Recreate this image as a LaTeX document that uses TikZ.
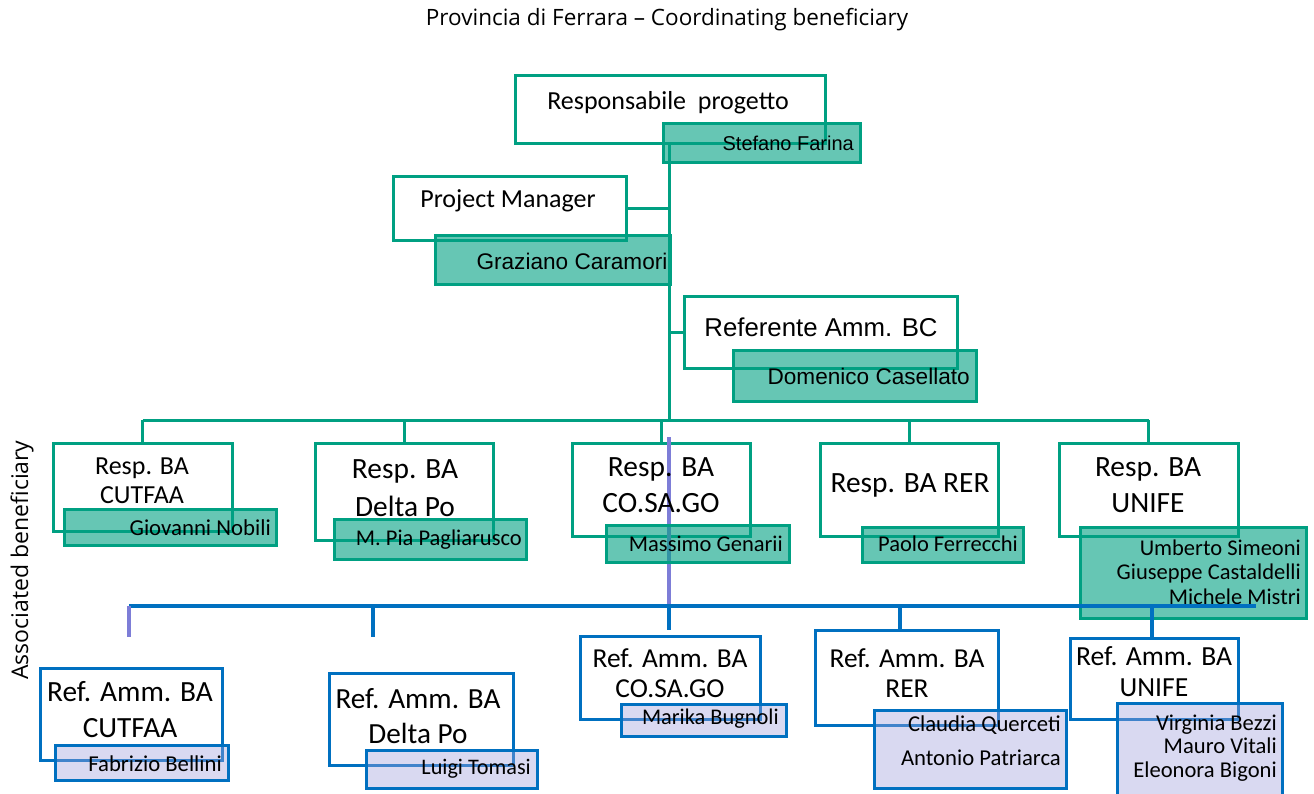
\documentclass[tikz,border=0pt]{standalone}
\usepackage{fontspec}
\setmainfont{Carlito}
\newfontfamily\arialf{Liberation Sans}
\newfontfamily\segoef{Open Sans}
\definecolor{teal1}{RGB}{0,160,130}
\definecolor{blue1}{RGB}{0,112,192}
\definecolor{purp1}{RGB}{125,125,215}
\definecolor{lav}{RGB}{160,160,220}
\tikzset{
  wbox/.style={draw=teal1, line width=3pt, fill=white, anchor=north west, inner sep=0pt, outer sep=0pt},
  gbox/.style={draw=teal1, line width=3pt, fill=teal1, fill opacity=0.6, draw opacity=1, anchor=north west, inner sep=0pt, outer sep=0pt},
  bbox/.style={draw=blue1, line width=3pt, fill=white, anchor=north west, inner sep=0pt, outer sep=0pt},
  lbox/.style={draw=blue1, line width=3pt, fill=lav, fill opacity=0.4, draw opacity=1, anchor=north west, inner sep=0pt, outer sep=0pt},
  tline/.style={draw=teal1, line width=3pt},
  bline/.style={draw=blue1, line width=4pt},
  pline/.style={draw=purp1, line width=4pt},
  txt/.style={inner sep=0pt, text=black, align=center},
  ntxt/.style={inner sep=0pt, text=black, align=right, anchor=east},
}
\newcommand{\fs}[2]{\fontsize{#1}{#2}\selectfont}
\begin{document}
\begin{tikzpicture}[x=1pt,y=-1pt]
\useasboundingbox (0,0) rectangle (1314,793);
% title
\node[txt, font=\segoef\fs{22.5}{26}] (title) at (667,20) {Provincia di Ferrara – Coordinating beneficiary};
\node[txt, font=\segoef\fs{23}{26}, rotate=90] (assoc) at (22,560) {Associated beneficiary};

% teal connectors
\coordinate (trtop) at (669,143);
\coordinate (trbot) at (669,420);
\draw[tline] (trtop) -- (trbot);

% top boxes
\node[wbox, minimum width=310pt, minimum height=68pt] (resp) at (515,75) {};
\node[gbox, minimum width=197pt, minimum height=39pt] (sf) at (663,123) {};
\node[wbox, minimum width=233pt, minimum height=64pt] (pm) at (393,176) {};
\node[gbox, minimum width=235pt, minimum height=49pt] (gc) at (435,235) {};
\node[wbox, minimum width=273pt, minimum height=72pt] (ref) at (684,296) {};
\node[gbox, minimum width=243pt, minimum height=51pt] (dc) at (733,350) {};
\draw[tline] (pm.east) -- (pm.east -| trtop);
\draw[tline] (ref.west) -- (ref.west -| trtop);

\node[txt, font=\fs{26}{30}] (resptxt) at (668,103) {Responsabile~~progetto};
\node[ntxt, font=\arialf\fs{20}{24}] (sftxt) at (854,143) {Stefano Farina};
\node[txt, font=\fs{26}{30}] (pmtxt) at (508,201) {Project Manager};
\node[txt, font=\arialf\fs{22.6}{26}] (gctxt) at (572,261) {Graziano Caramori};
\node[txt, font=\arialf\fs{25.8}{30}] (reftxt) at (821,327) {Referente Amm. BC};
\node[ntxt, font=\arialf\fs{22.6}{26}] (dctxt) at (970,376) {Domenico Casellato};

% Resp BA boxes
\node[wbox, minimum width=179pt, minimum height=88pt] (rb1) at (53,443) {};
\node[wbox, minimum width=178pt, minimum height=97pt] (rb2) at (315,443) {};
\node[wbox, minimum width=178pt, minimum height=93pt] (rb3) at (572,443) {};
\node[wbox, minimum width=178pt, minimum height=93pt] (rb4) at (820,443) {};
\node[wbox, minimum width=179pt, minimum height=93pt] (rb5) at (1059,443) {};
\coordinate (busl) at (rb1.north |- trbot);
\coordinate (busr) at (rb5.north |- trbot);
\draw[tline] (busl) -- (busr);
\foreach \n in {rb1,rb2,rb3,rb4,rb5} \draw[tline] (busl -| \n.north) -- (\n.north);

% purple link
\coordinate (ptop) at (669,437);
\coordinate (bbl) at (129,606);
\coordinate (bbr) at (1256,606);
\draw[pline] (ptop) -- (ptop |- bbl);

\node[gbox, minimum width=212pt, minimum height=36pt] (n1) at (64,509) {};
\node[gbox, minimum width=192pt, minimum height=40pt] (n2) at (334,519) {};
\node[gbox, minimum width=183pt, minimum height=37pt] (n3) at (606,525) {};
\node[gbox, minimum width=161pt, minimum height=35pt] (n4) at (862,527) {};
\node[gbox, minimum width=226pt, minimum height=91pt] (n5) at (1080,527) {};

\node[txt, font=\fs{26}{29}] (rb1t) at (142,481) {Resp. BA\\CUTFAA};
\node[txt, font=\fs{29.4}{38}] (rb2t) at (405,488) {Resp. BA\\Delta Po};
\node[txt, font=\fs{29.4}{36}] (rb3t) at (661,485) {Resp. BA\\CO.SA.GO};
\node[txt, font=\fs{29.4}{36}] (rb4t) at (910,485) {Resp. BA RER};
\node[txt, font=\fs{29.4}{36}] (rb5t) at (1148,485) {Resp. BA\\UNIFE};
\node[ntxt, font=\fs{22.8}{24}] (n1t) at (271,528) {Giovanni Nobili};
\node[ntxt, font=\fs{22.5}{24}] (n2t) at (522,540) {M. Pia Pagliarusco};
\node[ntxt, font=\fs{22.5}{24}] (n3t) at (783,544) {Massimo Genarii};
\node[ntxt, font=\fs{22.5}{24}] (n4t) at (1018,544) {Paolo Ferrecchi};
\node[ntxt, font=\fs{22.5}{24.5}] (n5t) at (1301,572) {Umberto Simeoni\\Giuseppe Castaldelli\\Michele Mistri};

% blue bus and drops
\draw[bline] (bbl) -- (bbr);
\coordinate (d1) at (129,637);
\coordinate (d2) at (373,637);
\coordinate (d3) at (669,630);
\coordinate (d4) at (900,630);
\coordinate (d5) at (1152,637);
\draw[pline] (bbl) -- (d1);
\foreach \d in {d2,d3,d4,d5} \draw[bline] (bbl -| \d) -- (\d);

% Ref Amm boxes
\node[bbox, minimum width=182pt, minimum height=92pt] (fb1) at (40,668) {};
\node[bbox, minimum width=184pt, minimum height=92pt] (fb2) at (329,673) {};
\node[bbox, minimum width=180pt, minimum height=83pt] (fb3) at (580,636) {};
\node[bbox, minimum width=183pt, minimum height=95pt] (fb4) at (815,630) {};
\node[bbox, minimum width=168pt, minimum height=81pt] (fb5) at (1070,638) {};
\node[lbox, minimum width=173pt, minimum height=35pt] (m1) at (55,745) {};
\node[lbox, minimum width=171pt, minimum height=38pt] (m2) at (366,750) {};
\node[lbox, minimum width=165pt, minimum height=32pt] (m3) at (621,704) {};
\node[lbox, minimum width=192pt, minimum height=78pt] (m4) at (874,710) {};
\node[lbox, minimum width=165pt, minimum height=100pt] (m5) at (1117,703) {};

\node[txt, font=\fs{29.3}{36}] (fb1t) at (130,710) {Ref. Amm. BA\\CUTFAA};
\node[txt, font=\fs{29.2}{35}] (fb2t) at (418,716) {Ref. Amm. BA\\Delta Po};
\node[txt, font=\fs{27.4}{30}] (fb3t) at (670,673) {Ref. Amm. BA\\CO.SA.GO};
\node[txt, font=\fs{27.4}{30}] (fb4t) at (907,673) {Ref. Amm. BA\\RER};
\node[txt, font=\fs{27.6}{31}] (fb5t) at (1154,672) {Ref. Amm. BA\\UNIFE};
\node[ntxt, font=\fs{22.7}{24}] (m1t) at (222,764) {Fabrizio Bellini};
\node[ntxt, font=\fs{22.2}{24}] (m2t) at (531,769) {Luigi Tomasi};
\node[ntxt, font=\fs{22.4}{24}] (m3t) at (779,719) {Marika Bugnoli};
\node[ntxt, font=\fs{22.7}{34}] (m4t) at (1061,741) {Claudia Querceti\\Antonio Patriarca};
\node[ntxt, font=\fs{22.6}{23.5}] (m5t) at (1277,748) {Virginia Bezzi\\Mauro Vitali\\Eleonora Bigoni};
\end{tikzpicture}
\end{document}
